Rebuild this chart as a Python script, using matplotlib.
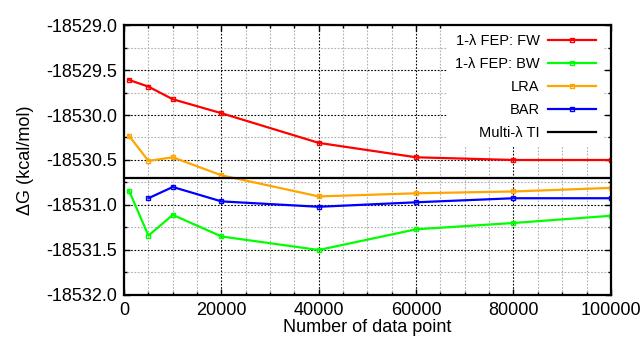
import matplotlib.pyplot as plt
from matplotlib.ticker import MultipleLocator

plt.rcParams['font.family'] = ['Liberation Sans', 'DejaVu Sans']

# data
n_points = [1000, 5000, 10000, 20000, 40000, 60000, 80000, 100000]
fep_fw = [-18529.61, -18529.685, -18529.825, -18529.98, -18530.31, -18530.47, -18530.50, -18530.50]
fep_bw = [-18530.84, -18531.34, -18531.11, -18531.35, -18531.50, -18531.27, -18531.20, -18531.12]
lra = [-18530.23, -18530.51, -18530.47, -18530.67, -18530.905, -18530.87, -18530.85, -18530.81]
bar_x = [5000, 10000, 20000, 40000, 60000, 80000, 100000]
bar = [-18530.925, -18530.80, -18530.96, -18531.02, -18530.97, -18530.925, -18530.925]
multi_ti = -18530.70

fig = plt.figure(figsize=(6.43, 3.45), dpi=100)
ax = fig.add_axes([0.193, 0.145, 0.757, 0.7825])

ax.set_xlim(0, 100000)
ax.set_ylim(-18532.0, -18529.0)
ax.xaxis.set_major_locator(MultipleLocator(20000))
ax.xaxis.set_minor_locator(MultipleLocator(5000))
ax.yaxis.set_major_locator(MultipleLocator(0.5))
ax.yaxis.set_minor_locator(MultipleLocator(0.25))
ax.yaxis.set_major_formatter(plt.FormatStrFormatter('%.1f'))

ax.grid(which='minor', color='#b0b0b0', linestyle=(0, (1.5, 1.5)), linewidth=0.8)
ax.grid(which='major', color='black', linestyle=(0, (1.5, 1.5)), linewidth=0.8)
ax.set_axisbelow(True)

style = dict(linewidth=1.6, marker='s', markersize=3, markerfacecolor='none', markeredgewidth=1)
ax.plot(n_points, fep_fw, color='#ff0000', label='1-λ FEP: FW', **style)
ax.plot(n_points, fep_bw, color='#00ff00', label='1-λ FEP: BW', **style)
ax.plot(n_points, lra, color='#ffa500', label='LRA', **style)
ax.plot(bar_x, bar, color='#0000ff', label='BAR', **style)
ax.axhline(multi_ti, color='black', linewidth=1.6, label='Multi-λ TI')

for s in ax.spines.values():
    s.set_linewidth(1.6)
ax.tick_params(which='both', direction='in', top=True, right=True, labelsize=13, pad=5)
ax.tick_params(which='major', length=4, width=1)
ax.tick_params(which='minor', length=2.5, width=1)

ax.set_xlabel('Number of data point', fontsize=13, labelpad=0)
ax.set_ylabel('ΔG (kcal/mol)', fontsize=13, labelpad=9)

# white box behind the key hides the grid like gnuplot does
leg = ax.legend(loc='upper right', bbox_to_anchor=(0.988, 1.0), frameon=True, fancybox=False,
                markerfirst=False, fontsize=10.5, handlelength=3.3, labelspacing=0.62,
                handletextpad=0.6, borderaxespad=0.1, borderpad=0.5, numpoints=1)
leg.get_frame().set_facecolor('white')
leg.get_frame().set_edgecolor('none')
leg.get_frame().set_alpha(1)
leg.set_zorder(1.5)

fig.savefig('out.png', dpi=100)
